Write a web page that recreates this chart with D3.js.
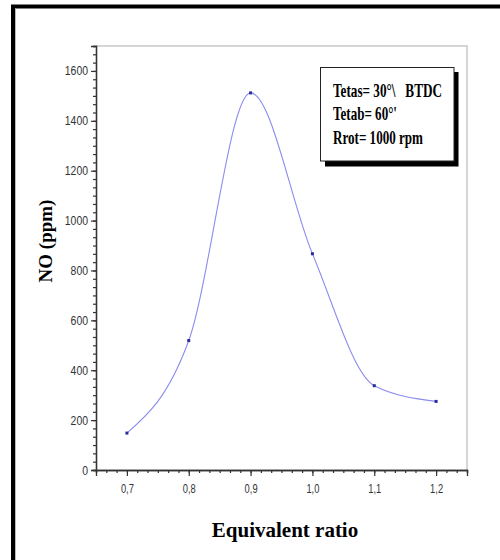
<!DOCTYPE html>
<html>
<head>
<meta charset="utf-8">
<script src="https://cdn.jsdelivr.net/npm/d3@7"></script>
<style>
  body { margin: 0; background: white; }
  svg { display: block; }
</style>
</head>
<body>
<div id="chart"></div>
<script>
// values
const ratio = [0.7, 0.8, 0.9, 1.0, 1.1, 1.2];
const noPpm = [148, 519, 1512, 867, 338, 275];
const xTicks = [0.7, 0.8, 0.9, 1.0, 1.1, 1.2];
const yTicks = [0, 200, 400, 600, 800, 1000, 1200, 1400, 1600];
const legendLines = ["Tetas= 30°\\   BTDC", "Tetab= 60°'", "Rrot= 1000 rpm"];

const width = 500, height = 560;
const margin = { left: 96, top: 46, right: 33, bottom: 90 };

const svg = d3.select('#chart').append('svg')
    .attr('width', width).attr('height', height);

// outer black frame (runs off to the right and bottom)
svg.append('rect')
    .attr('x', 13).attr('y', 6.5)
    .attr('width', 600).attr('height', 700)
    .style('fill', 'none').style('stroke', 'black').style('stroke-width', 4);
svg.append('line')
    .attr('x1', 15.5).attr('x2', 15.5).attr('y1', 8.5).attr('y2', height)
    .style('stroke', '#bbb').style('stroke-width', 1);

const x = d3.scaleLinear().domain([0.65, 1.25]).range([margin.left, width - margin.right]);
const y = d3.scaleLinear().domain([0, 1700]).range([height - margin.bottom, margin.top]);

// light grey frame on top / right
svg.append('path')
    .attr('d', `M${x(0.65)},${y(1700)}H${x(1.25)}V${y(0)}`)
    .style('fill', 'none').style('stroke', '#c8c8c8').style('stroke-width', 1.5);

// minor ticks: five between each pair of majors
const xMinor = d3.range(0, 37).map(i => 0.65 + i * 0.1 / 6);
const yMinor = d3.range(0, 52).map(i => i * 200 / 6);

const tickFont = '"Liberation Sans", Arial, sans-serif';

const xAxis = svg.append('g').attr('transform', `translate(0,${y(0)})`);
xAxis.call(d3.axisBottom(x).tickValues(xMinor).tickSize(3).tickFormat(''));
xAxis.append('g').call(d3.axisBottom(x).tickValues(xTicks).tickSize(6).tickPadding(8)
    .tickFormat(d => d3.format('.1f')(d).replace('.', ',')));
xAxis.selectAll('.domain').style('stroke', '#333').style('stroke-width', 1.3);
xAxis.selectAll('.tick line').style('stroke', '#333').style('stroke-width', 1.2);
xAxis.selectAll('text')
    .style('font-family', tickFont).style('font-size', '12.5px').style('fill', '#333')
    .filter(function () { return this.textContent.length > 0; })
    .attr('textLength', 13).attr('lengthAdjust', 'spacingAndGlyphs');

const yAxis = svg.append('g').attr('transform', `translate(${x(0.65)},0)`);
yAxis.call(d3.axisLeft(y).tickValues(yMinor).tickSize(3).tickFormat(''));
yAxis.append('g').call(d3.axisLeft(y).tickValues(yTicks).tickSize(5).tickPadding(3)
    .tickFormat(d3.format('d')));
yAxis.selectAll('.domain').style('stroke', '#333').style('stroke-width', 1.3);
yAxis.selectAll('.tick line').style('stroke', '#333').style('stroke-width', 1.2);
yAxis.selectAll('text')
    .style('font-family', tickFont).style('font-size', '12.5px').style('fill', '#333')
    .filter(function () { return this.textContent.length > 0; })
    .attr('textLength', function () { return this.textContent.length * 5.8; })
    .attr('lengthAdjust', 'spacingAndGlyphs');

// curve and points
const data = ratio.map((r, i) => ({ r, v: noPpm[i] }));
const line = d3.line().x(d => x(d.r)).y(d => y(d.v)).curve(d3.curveMonotoneX);
svg.append('path')
    .datum(data)
    .attr('d', line)
    .style('fill', 'none').style('stroke', '#8c8cf0').style('stroke-width', 1.1);
svg.selectAll('.pt').data(data).join('rect')
    .attr('class', 'pt')
    .attr('x', d => x(d.r) - 1.5).attr('y', d => y(d.v) - 1.5)
    .attr('width', 3).attr('height', 3)
    .style('fill', '#2a2a9a');

// axis titles
const serif = '"Liberation Serif", "Times New Roman", serif';
svg.append('text')
    .attr('x', 285).attr('y', 537)
    .attr('text-anchor', 'middle')
    .style('font-family', serif).style('font-weight', 'bold').style('font-size', '21px')
    .text('Equivalent ratio');
svg.append('text')
    .attr('transform', 'translate(52,241) rotate(-90)')
    .attr('text-anchor', 'middle')
    .style('font-family', serif).style('font-weight', 'bold').style('font-size', '19px')
    .text('NO (ppm)');

// legend box with drop shadow
const legend = svg.append('g');
legend.append('rect')
    .attr('x', 325).attr('y', 72).attr('width', 133.5).attr('height', 94.5)
    .style('fill', 'black');
legend.append('rect')
    .attr('x', 320.5).attr('y', 67.5).attr('width', 133.5).attr('height', 93.5)
    .style('fill', 'white').style('stroke', '#222').style('stroke-width', 1);

const lineLengths = [109, 64, 90];
legend.selectAll('.lg').data(legendLines).join('text')
    .attr('class', 'lg')
    .attr('x', 333).attr('y', (d, i) => 97 + i * 23.3)
    .attr('textLength', (d, i) => lineLengths[i])
    .attr('lengthAdjust', 'spacingAndGlyphs')
    .style('white-space', 'pre')
    .style('font-family', serif).style('font-weight', 'bold').style('font-size', '19px')
    .text(d => d);
</script>
</body>
</html>
